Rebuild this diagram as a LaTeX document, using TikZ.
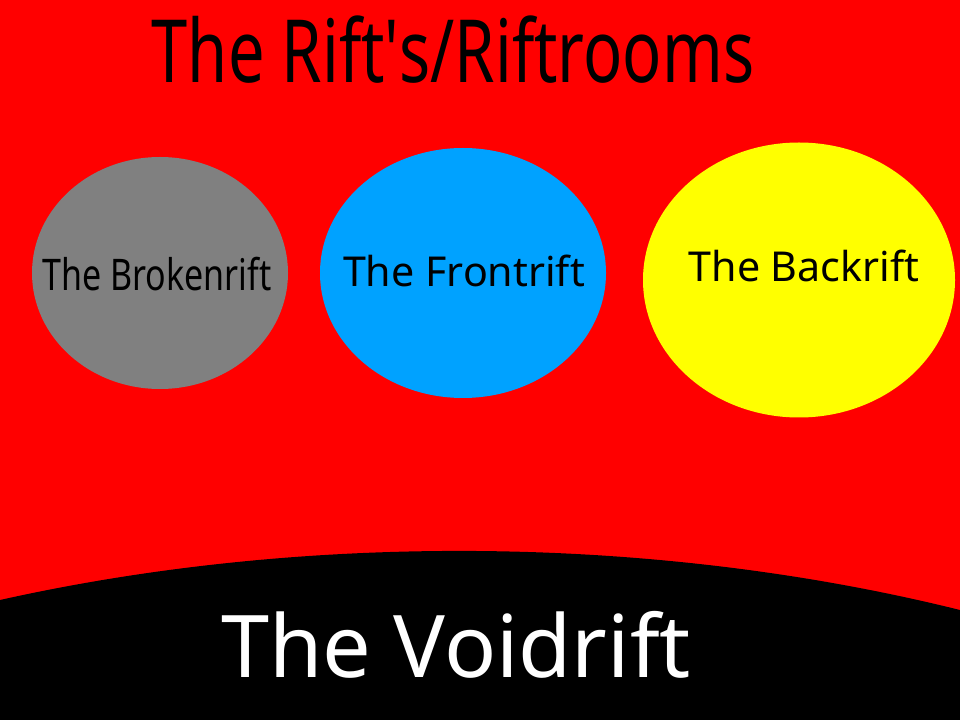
\documentclass[tikz,border=0pt]{standalone}
\usepackage{fontspec}
\setmainfont{Noto Sans}
\usepackage{tikz}
\usetikzlibrary{shapes.geometric}
\definecolor{riftred}{RGB}{255, 0, 0}
\definecolor{brokengray}{RGB}{128, 128, 128}
\definecolor{frontblue}{RGB}{0, 162, 255}
\definecolor{backyellow}{RGB}{255, 255, 0}

\begin{document}
\begin{tikzpicture}[
    x=0.025cm, y=-0.025cm,
    rift/.style={
        ellipse, fill=#1, draw=none, inner sep=0pt
    },
    riftlabel/.style={font=\fontsize{29.3}{34}\selectfont, text=black}
]
    \useasboundingbox (0,0) rectangle (960,720);
    \fill[riftred] (0,0) rectangle (960,720);
    % the void at the bottom
    \fill[black] (0,600) .. controls (300,533) and (650,533) .. (960,610) -- (960,720) -- (0,720) -- cycle;

    \node[font=\fontsize{62}{70}\selectfont, xscale=0.746] (title) at (453,50) {The Rift\textquotesingle s/Riftrooms};

    \node[rift=brokengray, minimum width=256*0.025cm, minimum height=232*0.025cm] (broken) at (160,273) {};
    \node[rift=frontblue, minimum width=286*0.025cm, minimum height=250*0.025cm] (front) at (463,273) {};
    \node[rift=backyellow, minimum width=312*0.025cm, minimum height=275*0.025cm] (back) at (799,280) {};

    \node[riftlabel, font=\fontsize{31}{36}\selectfont, xscale=0.78] (brokenlbl) at (157,274) {The Brokenrift};
    \node[riftlabel] (frontlbl) at (464,271) {The Frontrift};
    \node[riftlabel] (backlbl) at (804,266) {The Backrift};

    \node[font=\fontsize{61.5}{70}\selectfont, text=white] (void) at (456,645) {The Voidrift};
\end{tikzpicture}
\end{document}
